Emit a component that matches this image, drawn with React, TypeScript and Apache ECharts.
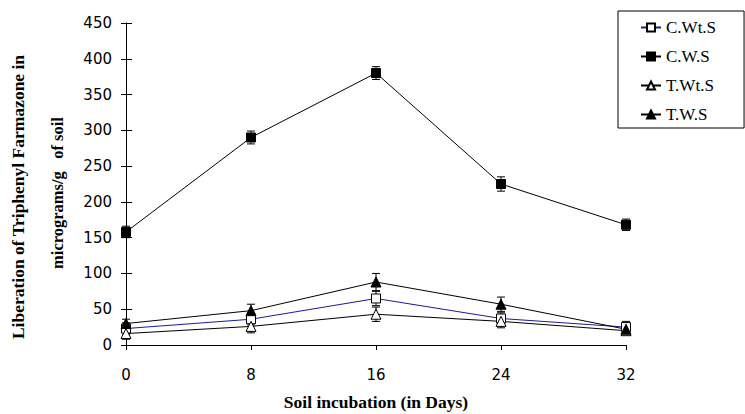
import React, { useEffect, useRef } from "react";
import * as echarts from "echarts";

const days = [0, 8, 16, 24, 32];
const yTicks = [0, 50, 100, 150, 200, 250, 300, 350, 400, 450];

const cwtsValues = [23, 36, 65, 37, 25];
const cwsValues = [158, 290, 380, 225, 168];
const twtsValues = [16, 26, 43, 33, 20];
const twsValues = [30, 48, 88, 57, 22];

const cwtsErr = [8, 8, 10, 8, 8];
const cwsErr = [8, 9, 9, 10, 8];
const twtsErr = [8, 9, 10, 9, 6];
const twsErr = [6, 9, 12, 10, 6];

const seriesNames = ["C.Wt.S", "C.W.S", "T.Wt.S", "T.W.S"];

const SERIF = "'Liberation Serif', 'Times New Roman', serif";
const SANS = "'DejaVu Sans', Verdana, sans-serif";

function errSeries(values: number[], errs: number[]) {
  return {
    type: "custom",
    silent: true,
    z: 1,
    data: days.map((d, i) => [d, values[i] - errs[i], values[i] + errs[i]]),
    renderItem: (params: any, api: any) => {
      const x = api.value(0);
      const lo = api.coord([x, api.value(1)]);
      const hi = api.coord([x, api.value(2)]);
      const cap = 4;
      const st = { stroke: "#000", lineWidth: 1 };
      return {
        type: "group",
        children: [
          { type: "line", shape: { x1: lo[0], y1: lo[1], x2: hi[0], y2: hi[1] }, style: st },
          { type: "line", shape: { x1: lo[0] - cap, y1: lo[1], x2: lo[0] + cap, y2: lo[1] }, style: st },
          { type: "line", shape: { x1: hi[0] - cap, y1: hi[1], x2: hi[0] + cap, y2: hi[1] }, style: st },
        ],
      };
    },
  };
}

export default function App() {
  const ref = useRef<HTMLDivElement>(null);
  useEffect(() => {
    if (!ref.current) return;
    const chart = echarts.init(ref.current, null, { renderer: "svg" });
    const line = (name: string, values: number[], symbol: string, size: number, lineColor: string, fill: string) => ({
      name,
      type: "line",
      z: 3,
      data: days.map((d, i) => [d, values[i]]),
      symbol,
      symbolSize: size,
      showAllSymbol: true,
      lineStyle: { color: lineColor, width: 1 },
      itemStyle: { color: fill, borderColor: "#000", borderWidth: 1 },
    });
    const yBase = {
      type: "value",
      min: 0,
      max: 450,
      interval: 50,
      position: "left",
      splitLine: { show: false },
    };
    chart.setOption({
      animation: false,
      backgroundColor: "#fff",
      grid: { left: 126, right: 119, top: 23, bottom: 69, containLabel: false, outerBoundsMode: "none" },
      xAxis: {
        type: "value",
        min: 0,
        max: 32,
        interval: 8,
        axisLine: { lineStyle: { color: "#000", width: 1 } },
        axisTick: { show: true, length: 5, lineStyle: { color: "#000" } },
        axisLabel: { color: "#000", fontFamily: SANS, fontSize: 15, margin: 22 },
        splitLine: { show: false },
        name: "Soil incubation (in Days)",
        nameLocation: "middle",
        nameGap: 48,
        nameTextStyle: { color: "#000", fontFamily: SERIF, fontSize: 17.5, fontWeight: "bold" },
      },
      yAxis: [
        {
          ...yBase,
          axisLine: { show: true, lineStyle: { color: "#000", width: 1 } },
          axisTick: { show: true, length: 5, lineStyle: { color: "#000" } },
          axisLabel: { color: "#000", fontFamily: SANS, fontSize: 15, margin: 14, formatter: (v: number) => (yTicks.includes(v) ? String(v) : "") },
        },
        {
          ...yBase,
          offset: 0,
          axisLine: { show: false },
          axisTick: { show: true, inside: true, length: 6, lineStyle: { color: "#000" } },
          axisLabel: { show: false },
        },
      ],
      legend: {
        data: seriesNames,
        orient: "vertical",
        left: 618,
        top: 11,
        padding: [8, 28, 5, 22],
        itemWidth: 20,
        itemHeight: 10,
        itemGap: 12,
        borderColor: "#000",
        borderWidth: 1,
        textStyle: { color: "#000", fontFamily: SERIF, fontSize: 17 },
      },
      graphic: [
        {
          type: "text",
          x: 18,
          y: 197,
          rotation: Math.PI / 2,
          style: {
            text: "Liberation of Triphenyl Farmazone in",
            fontFamily: SERIF,
            fontSize: 17.5,
            fontWeight: "bold",
            fill: "#000",
            align: "center",
            verticalAlign: "middle",
          },
        },
        {
          type: "text",
          x: 57,
          y: 193,
          rotation: Math.PI / 2,
          style: {
            text: "micrograms/g   of soil",
            fontFamily: SERIF,
            fontSize: 16.5,
            fontWeight: "bold",
            fill: "#000",
            align: "center",
            verticalAlign: "middle",
          },
        },
      ],
      series: [
        errSeries(cwtsValues, cwtsErr),
        errSeries(cwsValues, cwsErr),
        errSeries(twtsValues, twtsErr),
        errSeries(twsValues, twsErr),
        line("C.Wt.S", cwtsValues, "rect", 9, "#1a1a9c", "#fff"),
        line("C.W.S", cwsValues, "rect", 9, "#000", "#000"),
        line("T.Wt.S", twtsValues, "triangle", 10, "#000", "#fff"),
        line("T.W.S", twsValues, "triangle", 10, "#000", "#000"),
      ],
    });
    return () => chart.dispose();
  }, []);
  return (
    <div
      ref={ref}
      style={{ position: "absolute", left: 0, top: 0, width: 745, height: 414, background: "#fff" }}
    />
  );
}
